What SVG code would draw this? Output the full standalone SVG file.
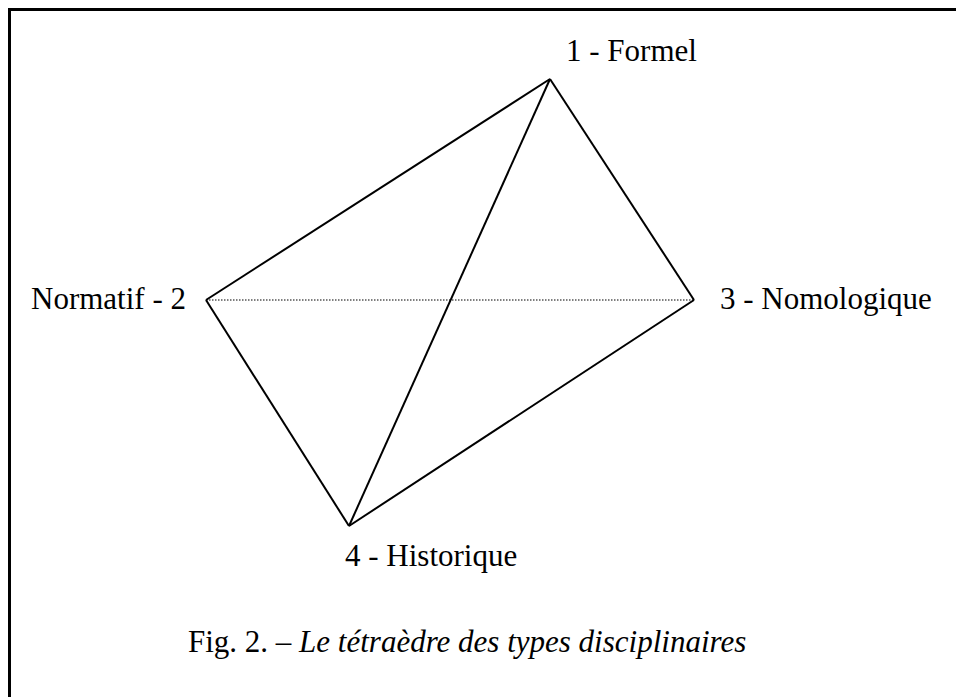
<svg xmlns="http://www.w3.org/2000/svg" width="956" height="697" viewBox="0 0 956 697">
<style>
text{font-family:"Liberation Serif","Times New Roman",serif;font-size:31px;fill:#000}
.edge{stroke:#000;stroke-width:2;fill:none;stroke-linejoin:miter}
.hidden{stroke:#000;stroke-width:1.2;stroke-dasharray:1.5 1.5;fill:none}
</style>
<rect x="0" y="0" width="956" height="697" fill="#fff"/>
<rect x="9.5" y="9.5" width="960" height="710" fill="none" stroke="#000" stroke-width="3"/>
<g id="connectors">
<line class="hidden" x1="206" y1="300" x2="694" y2="300"/>
<line class="edge" x1="550" y1="79" x2="206" y2="300"/>
<line class="edge" x1="550" y1="79" x2="694" y2="300"/>
<line class="edge" x1="550" y1="79" x2="349" y2="526"/>
<line class="edge" x1="206" y1="300" x2="349" y2="526"/>
<line class="edge" x1="694" y1="300" x2="349" y2="526"/>
</g>
<g id="n1"><text x="566" y="61">1 - Formel</text></g>
<g id="n2"><text x="186" y="309" text-anchor="end">Normatif - 2</text></g>
<g id="n3"><text x="720" y="309">3 - Nomologique</text></g>
<g id="n4"><text x="345" y="566">4 - Historique</text></g>
<g id="caption"><text x="188" y="652">Fig. 2. – <tspan font-style="italic">Le tétraèdre des types disciplinaires</tspan></text></g>
</svg>
